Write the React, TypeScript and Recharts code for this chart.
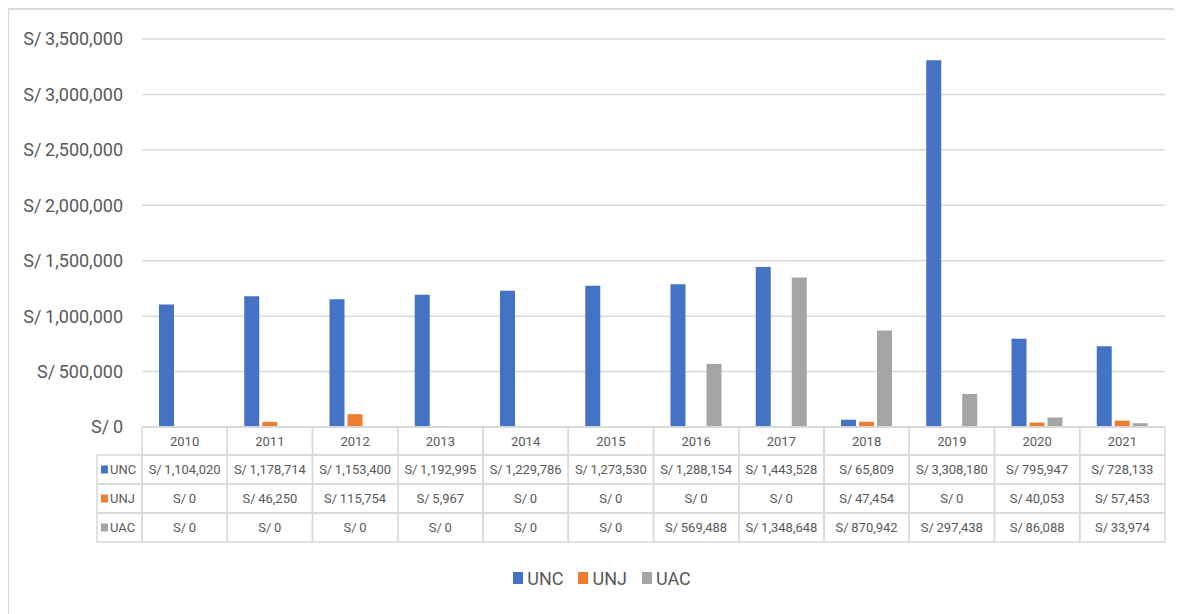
import React from 'react';
import { BarChart, Bar, XAxis, YAxis, CartesianGrid, Legend } from 'recharts';

// --- Data ---

const years = ['2010', '2011', '2012', '2013', '2014', '2015', '2016', '2017', '2018', '2019', '2020', '2021'];
const unc = [1104020, 1178714, 1153400, 1192995, 1229786, 1273530, 1288154, 1443528, 65809, 3308180, 795947, 728133];
const unj = [0, 46250, 115754, 5967, 0, 0, 0, 0, 47454, 0, 40053, 57453];
const uac = [0, 0, 0, 0, 0, 0, 569488, 1348648, 870942, 297438, 86088, 33974];
const yTicks = [0, 500000, 1000000, 1500000, 2000000, 2500000, 3000000, 3500000];

const series = [
    { key: 'UNC', color: '#4472C4', values: unc },
    { key: 'UNJ', color: '#ED7D31', values: unj },
    { key: 'UAC', color: '#A5A5A5', values: uac },
];

const data = years.map((year, i) => ({ year, UNC: unc[i], UNJ: unj[i], UAC: uac[i] }));

// --- Layout ---

const W = 1174;
const H = 606;
const Y_AXIS_W = 134;
const RIGHT = 17;
const PLOT_W = W - Y_AXIS_W - RIGHT;
const GRID = '#d9d9d9';
const TEXT = '#595959';
const FONT = 'Roboto, sans-serif';
const HEAD_H = 28;
const ROW_H = 29;
const LABEL_W = 45;

const money = (v: number) => `S/\u2009${v.toLocaleString('en-US')}`;

const TableTick = (props: any) => {
    const { x, y, payload } = props;
    const i = payload.index;
    const bw = PLOT_W / years.length;
    const left = x - bw / 2;
    return (
        <g fontFamily={FONT} fontSize={13} fill={TEXT}>
            <rect x={left} y={y} width={bw} height={HEAD_H} fill="none" stroke={GRID} strokeWidth={1.5} />
            <text x={x} y={y + HEAD_H / 2} textAnchor="middle" dominantBaseline="central">{payload.value}</text>
            {series.map((s, r) => {
                const top = y + HEAD_H + r * ROW_H;
                return (
                    <g key={s.key}>
                        <rect x={left} y={top} width={bw} height={ROW_H} fill="none" stroke={GRID} strokeWidth={1.5} />
                        <text x={x} y={top + ROW_H / 2} textAnchor="middle" dominantBaseline="central">{money(s.values[i])}</text>
                        {i === 0 && (
                            <g>
                                <rect x={left - LABEL_W} y={top} width={LABEL_W} height={ROW_H} fill="none" stroke={GRID} strokeWidth={1.5} />
                                <rect x={left - LABEL_W + 4} y={top + ROW_H / 2 - 4} width={7} height={8} fill={s.color} />
                                <text x={left - LABEL_W + 13} y={top + ROW_H / 2} dominantBaseline="central">{s.key}</text>
                            </g>
                        )}
                    </g>
                );
            })}
        </g>
    );
};

const LegendBox = () => (
    <div style={{ display: 'flex', justifyContent: 'center', gap: 15, paddingLeft: 14, height: 24, alignItems: 'center', fontFamily: FONT, fontSize: 18, color: TEXT }}>
        {series.map((s) => (
            <div key={s.key} style={{ display: 'flex', alignItems: 'center' }}>
                <span style={{ display: 'inline-block', width: 10, height: 12, background: s.color, marginRight: 4 }} />
                {s.key}
            </div>
        ))}
    </div>
);

export default function App() {
    return (
        <div style={{ position: 'relative', width: W, height: H }}>
            <div style={{ position: 'absolute', left: -1, top: 0, width: 2, height: H, background: GRID }} />
            <div style={{ position: 'absolute', left: -1, top: 0, width: W + 20, height: 2, background: GRID }} />
            <BarChart
                width={W}
                height={H}
                data={data}
                margin={{ top: 31, right: RIGHT, left: 0, bottom: 24 }}
                barSize={15}
                barGap={3}
            >
                <CartesianGrid vertical={false} stroke={GRID} strokeWidth={1.5} />
                <XAxis
                    dataKey="year"
                    interval={0}
                    height={139}
                    tickLine={false}
                    tickSize={0}
                    tickMargin={0}
                    axisLine={{ stroke: GRID, strokeWidth: 1.5 }}
                    tick={<TableTick />}
                />
                <YAxis
                    width={Y_AXIS_W}
                    domain={[0, 3500000]}
                    ticks={yTicks}
                    interval={0}
                    axisLine={false}
                    tickLine={false}
                    tickSize={0}
                    tickMargin={19}
                    tickFormatter={money}
                    tick={{ fill: TEXT, fontSize: 18, fontFamily: FONT }}
                />
                <Legend verticalAlign="bottom" content={<LegendBox />} wrapperStyle={{ left: 0, width: W }} />
                {series.map((s) => (
                    <Bar key={s.key} dataKey={s.key} fill={s.color} isAnimationActive={false} />
                ))}
            </BarChart>
        </div>
    );
}
